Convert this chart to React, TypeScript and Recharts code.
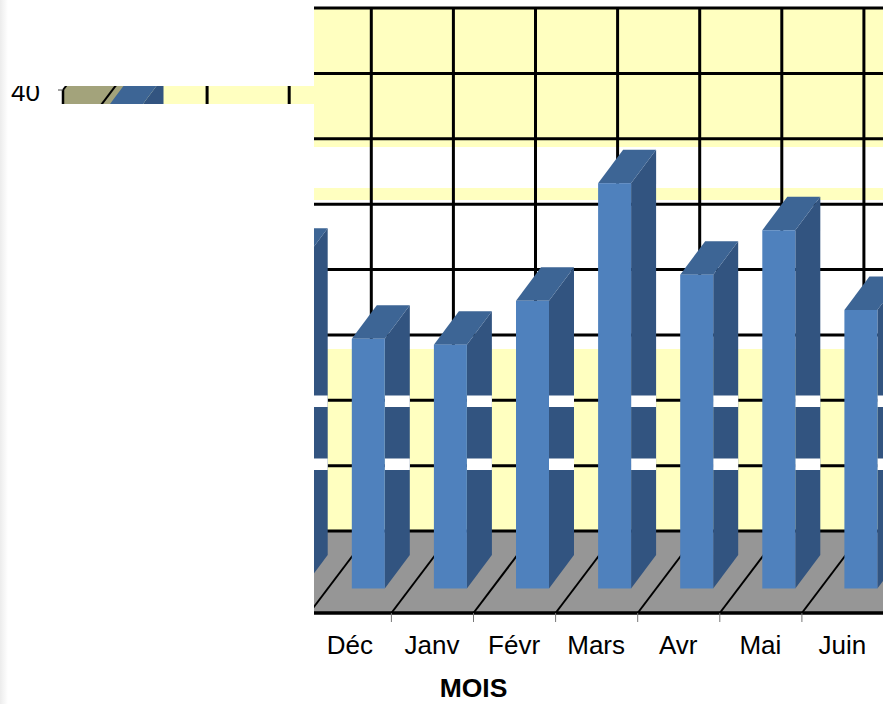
import { BarChart, Bar, XAxis, YAxis, CartesianGrid } from "recharts";

const months = ["Sept", "Oct", "Nov", "Déc", "Janv", "Févr", "Mars", "Avr", "Mai", "Juin"];
const values = [36.6, 26, 25, 19.1, 18.65, 22, 31, 24, 27.4, 21.3];
const yTicks = [0, 5, 10, 15, 20, 25, 30, 35, 40];

const data = months.map((month, i) => ({ month, value: values[i] }));

const FONT = "'Liberation Sans', Arial, sans-serif";
// profondeur du plancher 3D
const WALL_DX = 62;
const WALL_DY = -82;
const BAR_DX = 25;
const BAR_DY = -33.5;
const BAND = 82.1;
const PLOT_LEFT = 63;

function Bar3D({ x, y, width, height }: any) {
  const fx = x + (WALL_DX - BAR_DX) / 2 - 1;
  const fy = y - 24.5;
  const r = fx + width;
  const b = fy + height;
  return (
    <g>
      <polygon
        points={`${r},${fy} ${r + BAR_DX},${fy + BAR_DY} ${r + BAR_DX},${b + BAR_DY} ${r},${b}`}
        fill="#325480"
      />
      <rect x={r} y={395.5} width={BAR_DX} height={11.5} fill="#fff" />
      <rect x={r} y={458.5} width={BAR_DX} height={11.5} fill="#fff" />
      <polygon
        points={`${fx},${fy} ${fx + BAR_DX},${fy + BAR_DY} ${r + BAR_DX},${fy + BAR_DY} ${r},${fy}`}
        fill="#3D6595"
      />
      <rect x={fx} y={fy} width={width} height={height} fill="#4F81BD" />
    </g>
  );
}

function MonthTick({ x, y, payload }: any) {
  return (
    <g>
      <line x1={x + BAND / 2} y1={613} x2={x + BAND / 2} y2={622} stroke="#777" strokeWidth={1} />
      <text x={x - 0.5} y={y} dy={33} textAnchor="middle" fontSize={26} fontFamily={FONT} fill="#000">
        {payload.value}
      </text>
    </g>
  );
}

function WallLine({ x1, y1, x2 }: any) {
  return (
    <g fill="none" stroke="#000">
      <path d={`M${x1} ${y1} L${x1 + WALL_DX} ${y1 + WALL_DY}`} strokeWidth={2} />
      <path d={`M${x1 + WALL_DX} ${y1 + WALL_DY} L${x2 + WALL_DX} ${y1 + WALL_DY}`} strokeWidth={3} />
    </g>
  );
}

function WallColumn({ x1, y1, y2 }: any) {
  // la grille ajoute aussi le bord gauche du tracé : pas de colonne ici
  if (x1 <= PLOT_LEFT + 1) return null;
  const xb = x1 + BAND / 2;
  const low = Math.max(y1, y2);
  const high = Math.min(y1, y2);
  return (
    <g fill="none" stroke="#000">
      <path d={`M${xb} ${low} L${xb + WALL_DX} ${low + WALL_DY}`} strokeWidth={2} />
      <path d={`M${xb + WALL_DX} ${low + WALL_DY} L${xb + WALL_DX} ${high + WALL_DY}`} strokeWidth={3} />
    </g>
  );
}

export default function App() {
  return (
    <div style={{ position: "absolute", left: 0, top: 0, width: 883, height: 704, overflow: "hidden", background: "#fff" }}>
      {/* murs et plancher */}
      <svg width={883} height={704} style={{ position: "absolute", left: 0, top: 0 }}>
        <rect x={125} y={8} width={758} height={139} fill="#FFFFC0" />
        <rect x={125} y={188} width={758} height={12} fill="#FFFFC0" />
        <rect x={125} y={349} width={758} height={182} fill="#FFFFC0" />
        <polygon points="63,90 125,8 125,531 63,613" fill="#A3A37B" />
        <polygon points="63,613 125,531 883,531 883,613" fill="#969696" />
      </svg>
      <div style={{ position: "absolute", left: 0, top: 0 }}>
        <BarChart
          width={884}
          height={704}
          data={data}
          barSize={33}
          margin={{ top: 90, right: 0, bottom: 0, left: 0 }}
        >
          <CartesianGrid horizontal={(p: any) => <WallLine key={p.key} {...p} />} vertical={(p: any) => <WallColumn key={p.key} {...p} />} />
          <XAxis
            dataKey="month"
            height={91}
            interval={0}
            tickLine={false}
            tick={<MonthTick />}
            axisLine={{ stroke: "#000", strokeWidth: 3.5 }}
            label={{ value: "MOIS", position: "insideBottom", offset: 7, fontSize: 26.5, fontWeight: "bold", fontFamily: FONT, fill: "#000" }}
          />
          <YAxis
            width={PLOT_LEFT}
            domain={[0, 40]}
            ticks={yTicks}
            tickSize={5}
            tickMargin={18}
            tick={{ fontSize: 26, fontFamily: FONT, fill: "#000", dy: 2 }}
            axisLine={{ stroke: "#000", strokeWidth: 2.5 }}
            tickLine={{ stroke: "#444" }}
          />
          <Bar dataKey="value" shape={<Bar3D />} isAnimationActive={false} />
        </BarChart>
      </div>
      {/* zones blanches de l'image d'origine */}
      <div style={{ position: "absolute", left: 0, top: 0, width: 314, height: 86, background: "#fff" }} />
      <div style={{ position: "absolute", left: 0, top: 104, width: 314, height: 600, background: "#fff" }} />
      <div style={{ position: "absolute", left: 0, top: 0, width: 8, height: 704, background: "linear-gradient(to right, #ececec, #fff)" }} />
    </div>
  );
}
